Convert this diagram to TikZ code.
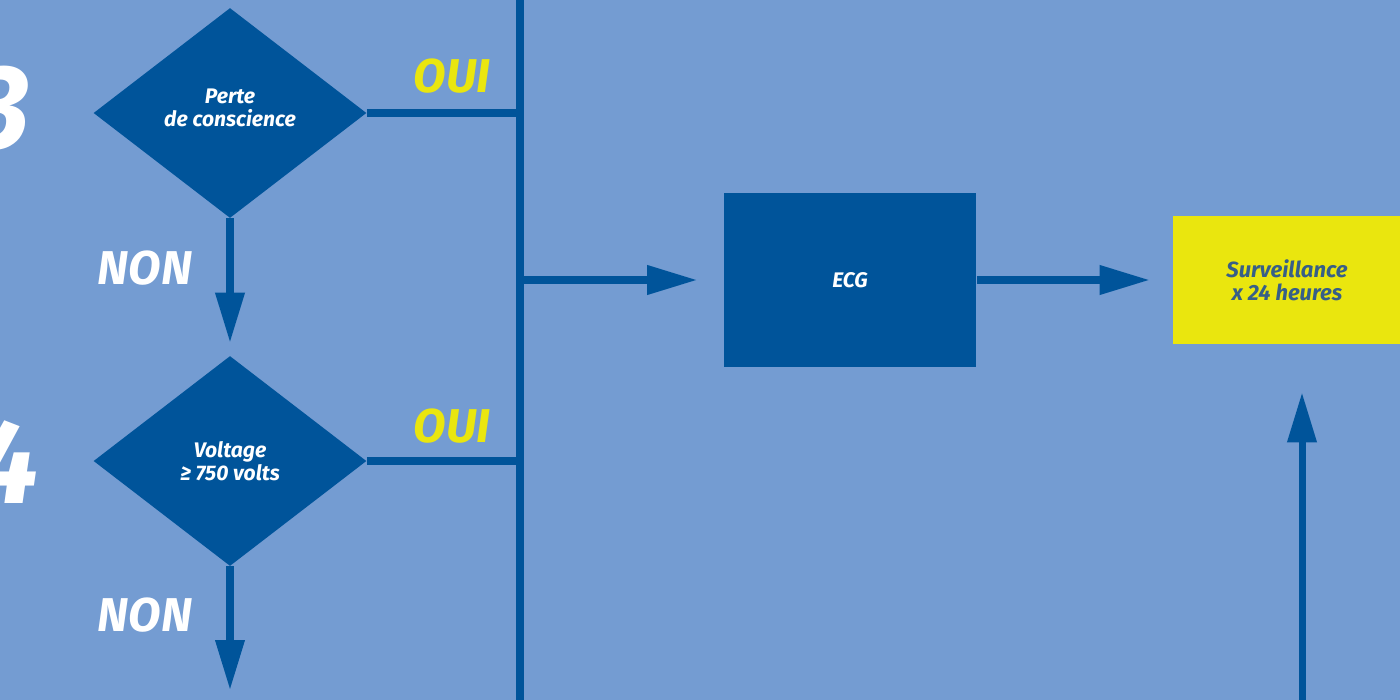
\documentclass[tikz,border=0pt]{standalone}
\usepackage{fontspec}
\setmainfont{Fira Sans}
\usetikzlibrary{shapes.geometric,arrows.meta,positioning}
\definecolor{bgblue}{RGB}{116,156,210}
\definecolor{navy}{RGB}{0,84,154}
\definecolor{lemon}{RGB}{234,230,14}
\definecolor{inkgrey}{RGB}{55,95,135}
\tikzset{
  decision/.style={diamond,fill=navy,minimum width=5.46cm,minimum height=4.2cm,
    inner sep=0pt,text=white,align=center,
    font=\bfseries\itshape\fontsize{12}{13}\selectfont},
  process/.style={rectangle,fill=navy,minimum width=5.06cm,minimum height=3.5cm,
    text=white,font=\bfseries\itshape\fontsize{12}{13}\selectfont},
  outcome/.style={rectangle,fill=lemon,minimum width=4.56cm,minimum height=2.56cm,
    text=inkgrey,align=center,font=\bfseries\itshape\fontsize{12.5}{13}\selectfont},
  wire/.style={navy,line width=4pt},
  flow/.style={wire,-{Triangle[length=1cm,width=0.56cm]}},
  yes/.style={text=lemon,font=\bfseries\itshape\fontsize{27}{30}\selectfont},
  no/.style={text=white,font=\bfseries\itshape\fontsize{27}{30}\selectfont},
  stepnum/.style={text=white,font=\bfseries\itshape\fontsize{68}{70}\selectfont}
}
\begin{document}
\begin{tikzpicture}[x=0.02cm,y=-0.02cm]
  \fill[bgblue] (0,0) rectangle (1400,700);
  \useasboundingbox (0,0) rectangle (1400,700);
  % step numbers, cut by the left edge
  \node[stepnum] (n3) at (0,108) {3};
  \node[stepnum] (n4) at (6,462) {4};
  % the two questions
  \node[decision] (perte) at (230,113) {};
  \node[font=\bfseries\itshape\fontsize{12}{13}\selectfont,text=white,align=center]
    (pertetxt) at (230,108) {Perte\\de conscience};
  \node[decision] (volt) at (230,461) {Voltage\\≥ 750 volts};
  \node[process] (ecg) at (850,280) {ECG};
  \node[outcome] (surv) at (1287,280) {Surveillance\\x 24 heures};
  % bus on the right of the questions
  \coordinate (bustop) at (520,0);
  \coordinate (busbot) at (520,700);
  \coordinate (nonend) at (230,690);
  \coordinate (foot) at (1302,700);
  \draw[wire] (bustop) -- (busbot);
  \draw[wire] (perte.east) -- (perte.east -| bustop);
  \draw[wire] (volt.east) -- (volt.east -| bustop);
  \draw[flow,shorten >=0.26cm] (perte.south) -- (volt.north);
  \draw[flow] (volt.south) -- (nonend);
  \draw[flow,shorten >=0.52cm] (bustop |- ecg.west) -- (ecg.west);
  \draw[flow,shorten >=0.46cm] (ecg.east) -- (surv.west);
  \draw[flow,shorten >=0.96cm] (foot) -- (foot |- surv.south);
  % answers
  \node[yes] (oui1) at (452,76) {OUI};
  \node[yes] (oui2) at (452,426) {OUI};
  \node[no] (non1) at (145,268) {NON};
  \node[no] (non2) at (145,615) {NON};
\end{tikzpicture}
\end{document}
